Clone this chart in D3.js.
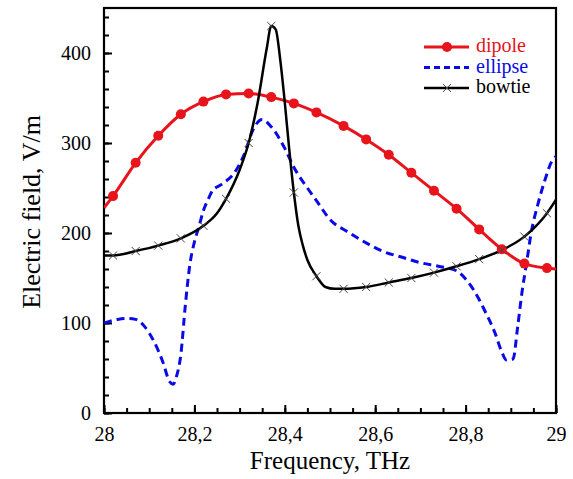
<!DOCTYPE html>
<html>
<head>
<meta charset="utf-8">
<script src="https://cdn.jsdelivr.net/npm/d3@7"></script>
<style>
body{margin:0;background:#fff;}
svg{display:block;}
svg text{font-family:"Liberation Serif","Times New Roman",serif;}
</style>
</head>
<body>
<svg id="chart" width="573" height="479"></svg>
<script>
// marker frequencies shared by the dipole and bowtie series
var markFreq = [28.02, 28.07, 28.12, 28.17, 28.22, 28.27, 28.32, 28.37, 28.42, 28.47,
                28.53, 28.58, 28.63, 28.68, 28.73, 28.78, 28.83, 28.88, 28.93, 28.98];

var dipoleFreq = [28.00].concat(markFreq).concat([29.00]);
var dipoleVal = [228, 241, 278, 308, 332, 346, 354, 355, 351, 344, 334,
                 319, 304, 287, 267, 247, 227, 204, 182, 166, 161, 160];

var ellipseFreq = [28.00, 28.03, 28.05, 28.07, 28.09, 28.11, 28.13, 28.145, 28.153, 28.16,
                   28.17, 28.18, 28.19, 28.20, 28.21, 28.22, 28.23, 28.24, 28.26, 28.29,
                   28.31, 28.33, 28.35, 28.37, 28.40, 28.42, 28.45, 28.47, 28.50, 28.54,
                   28.58, 28.62, 28.66, 28.70, 28.74, 28.78, 28.80, 28.82, 28.845, 28.865,
                   28.88, 28.89, 28.905, 28.915, 28.925, 28.935, 28.945, 28.96, 28.975, 28.99, 29.00];
var ellipseVal = [100, 104, 105, 104, 96, 80, 57, 35, 32, 40,
                  65, 120, 165, 190, 207, 225, 237, 247, 254, 268,
                  287, 315, 326, 318, 294, 273, 250, 236, 215, 201,
                  189, 179, 173, 167, 163, 158, 149, 135, 111, 89,
                  68, 59, 60, 95, 135, 167, 200, 232, 258, 279, 285];

var bowtieFreq = [28.00, 28.02, 28.07, 28.12, 28.17, 28.22, 28.25, 28.27, 28.30, 28.32,
                  28.34, 28.36, 28.37, 28.38, 28.39, 28.40, 28.41, 28.42, 28.43, 28.44,
                  28.45, 28.47, 28.49, 28.51, 28.53, 28.58, 28.63, 28.68, 28.73, 28.78,
                  28.83, 28.88, 28.93, 28.98, 29.00];
var bowtieVal = [175, 175, 180, 186, 194, 208, 222, 238, 270, 300,
                 345, 405, 430, 426, 392, 345, 292, 245, 208, 186,
                 170, 152, 140, 138, 138, 140, 145, 150, 156, 163,
                 171, 181, 196, 222, 237];

var xTicks = [28, 28.2, 28.4, 28.6, 28.8, 29];
var xTickLabels = ["28", "28,2", "28,4", "28,6", "28,8", "29"];
var yTicks = [0, 100, 200, 300, 400];
var yTickLabels = ["0", "100", "200", "300", "400"];

var seriesNames = ["dipole", "ellipse", "bowtie"];
var seriesColors = ["#e8141b", "#0a0ae6", "#000000"];

var svg = d3.select("#chart");
var margin = {left: 104, right: 17, top: 8, bottom: 66};
var W = 573, H = 479;
var FONT = "Liberation Serif";

var x = d3.scaleLinear().domain([28, 29]).range([margin.left, W - margin.right]);
var y = d3.scaleLinear().domain([0, 450]).range([H - margin.bottom, margin.top]);

svg.append("clipPath").attr("id", "clip")
    .append("rect")
    .attr("x", x(28)).attr("y", y(450))
    .attr("width", x(29) - x(28)).attr("height", y(0) - y(450));

//minor ticks
svg.append("g")
    .attr("transform", "translate(0," + y(0) + ")")
    .call(d3.axisBottom(x).tickValues(d3.range(28, 29.001, 0.05)).tickSize(-5).tickFormat(""))
    .call(function(g){ g.select(".domain").remove(); })
    .selectAll("line").attr("stroke", "#000").attr("stroke-width", 2);
svg.append("g")
    .attr("transform", "translate(" + x(28) + ",0)")
    .call(d3.axisLeft(y).tickValues(d3.range(0, 441, 20)).tickSize(-5).tickFormat(""))
    .call(function(g){ g.select(".domain").remove(); })
    .selectAll("line").attr("stroke", "#000").attr("stroke-width", 2);

//major ticks + labels
var xAxis = svg.append("g")
    .attr("transform", "translate(0," + y(0) + ")")
    .call(d3.axisBottom(x).tickValues(xTicks).tickSize(-8).tickPadding(14)
        .tickFormat(function(d, i){ return xTickLabels[i]; }));
xAxis.attr("font-family", FONT);
xAxis.select(".domain").remove();
xAxis.selectAll("line").attr("stroke", "#000").attr("stroke-width", 2);
xAxis.selectAll("text").attr("font-size", 20).attr("fill", "#000");

var yAxis = svg.append("g")
    .attr("transform", "translate(" + x(28) + ",0)")
    .call(d3.axisLeft(y).tickValues(yTicks).tickSize(-8).tickPadding(13)
        .tickFormat(function(d, i){ return yTickLabels[i]; }));
yAxis.attr("font-family", FONT);
yAxis.select(".domain").remove();
yAxis.selectAll("line").attr("stroke", "#000").attr("stroke-width", 2);
yAxis.selectAll("text").attr("font-size", 20).attr("fill", "#000");

//frame
svg.append("rect")
    .attr("x", x(28)).attr("y", y(450))
    .attr("width", x(29) - x(28)).attr("height", y(0) - y(450))
    .attr("fill", "none").attr("stroke", "#000").attr("stroke-width", 2.2);

var line = d3.line()
    .x(function(d){ return x(d[0]); })
    .y(function(d){ return y(d[1]); })
    .curve(d3.curveMonotoneX);

var plot = svg.append("g").attr("clip-path", "url(#clip)");

var dipole = dipoleFreq.map(function(f, i){ return [f, dipoleVal[i]]; });
var ellipse = ellipseFreq.map(function(f, i){ return [f, ellipseVal[i]]; });
var bowtie = bowtieFreq.map(function(f, i){ return [f, bowtieVal[i]]; });

plot.append("path").datum(dipole)
    .attr("d", line).attr("fill", "none")
    .attr("stroke", seriesColors[0]).attr("stroke-width", 3);
plot.append("path").datum(ellipse)
    .attr("d", line).attr("fill", "none")
    .attr("stroke", seriesColors[1]).attr("stroke-width", 3)
    .attr("stroke-dasharray", "8,5");
plot.append("path").datum(bowtie)
    .attr("d", line).attr("fill", "none")
    .attr("stroke", seriesColors[2]).attr("stroke-width", 2.5);

function isMark(f){
    return markFreq.some(function(m){ return Math.abs(m - f) < 1e-6; });
}

plot.selectAll(".dot")
    .data(dipole.filter(function(d){ return isMark(d[0]); }))
    .enter().append("circle")
    .attr("cx", function(d){ return x(d[0]); })
    .attr("cy", function(d){ return y(d[1]); })
    .attr("r", 5)
    .attr("fill", seriesColors[0]);

var cross = d3.symbol().type(d3.symbolTimes).size(45);
plot.selectAll(".cross")
    .data(bowtie.filter(function(d){ return isMark(d[0]); }))
    .enter().append("path")
    .attr("d", cross)
    .attr("transform", function(d){ return "translate(" + x(d[0]) + "," + y(d[1]) + ")"; })
    .attr("fill", "none").attr("stroke", "#444").attr("stroke-width", 1);

//legend
var legend = svg.append("g").attr("transform", "translate(424,47)");
seriesNames.forEach(function(name, i){
    var row = legend.append("g").attr("transform", "translate(0," + (i * 20.5) + ")");
    var l = row.append("line")
        .attr("x1", 0).attr("x2", 45).attr("y1", 0).attr("y2", 0)
        .attr("stroke", seriesColors[i])
        .attr("stroke-width", i == 2 ? 2.5 : 3);
    if(i == 1) l.attr("stroke-dasharray", "6,4");
    if(i == 0) row.append("circle").attr("cx", 23).attr("cy", 0).attr("r", 5).attr("fill", seriesColors[0]);
    if(i == 2) row.append("path").attr("d", cross).attr("transform", "translate(23,0)")
        .attr("fill", "none").attr("stroke", "#444").attr("stroke-width", 1);
    row.append("text")
        .attr("x", 52).attr("y", 5)
        .attr("font-size", 20)
        .attr("font-family", FONT)
        .attr("fill", seriesColors[i])
        .text(name);
});

//axis titles
svg.append("text")
    .attr("x", (x(28) + x(29)) / 2).attr("y", 469)
    .attr("text-anchor", "middle")
    .attr("font-size", 25)
    .attr("font-family", FONT)
    .text("Frequency, THz");
svg.append("text")
    .attr("transform", "translate(40,212) rotate(-90)")
    .attr("text-anchor", "middle")
    .attr("font-size", 26)
    .attr("font-family", FONT)
    .text("Electric field, V/m");
</script>
</body>
</html>
